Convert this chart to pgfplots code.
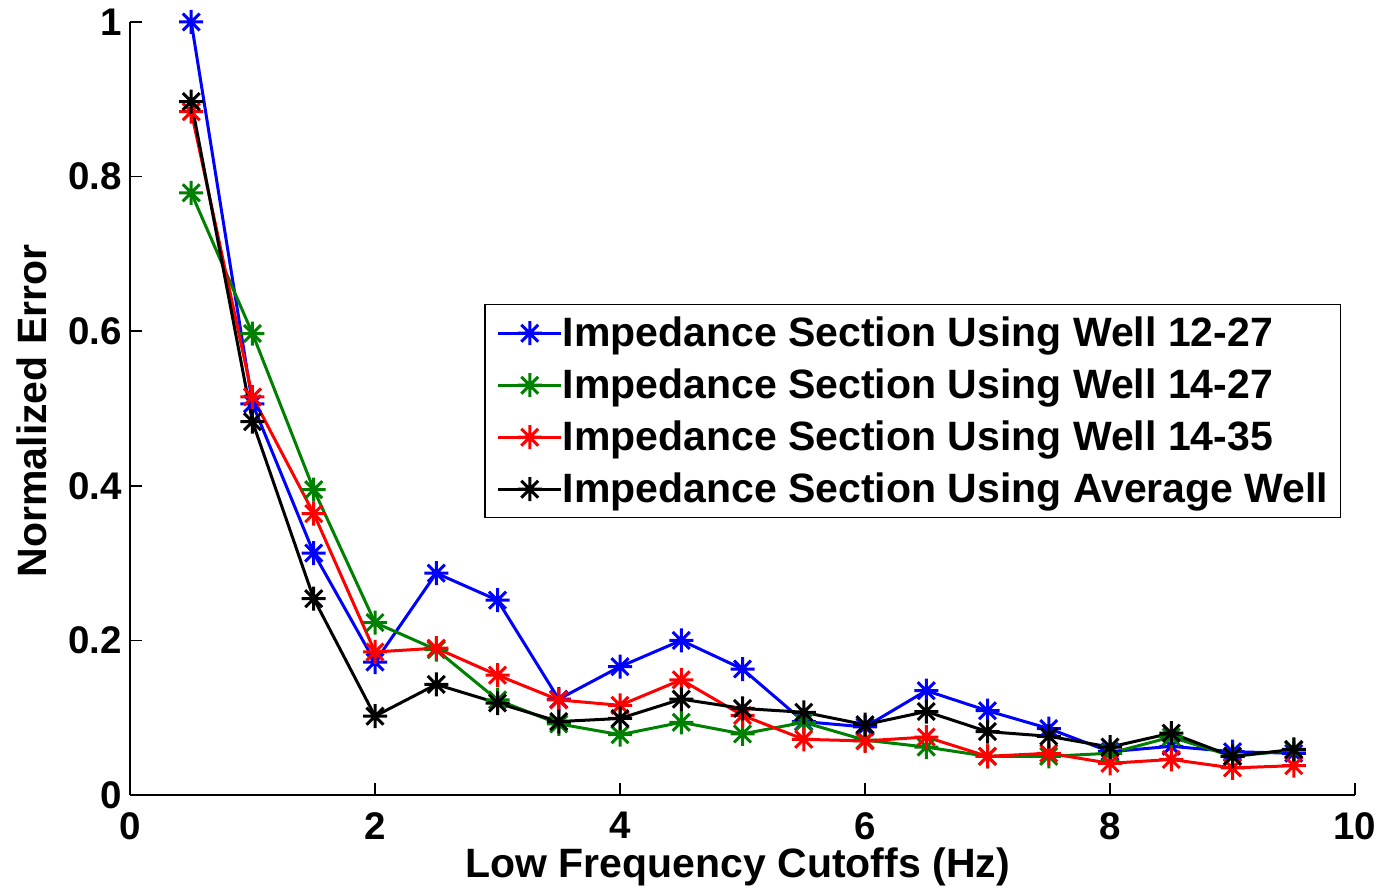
\documentclass[border=0pt]{standalone}
\usepackage{fontspec}
\setmainfont{Liberation Sans}
\usepackage{pgfplots}
\pgfplotsset{compat=1.18}
\definecolor{mgreen}{rgb}{0,0.5,0}
\pgfdeclareplotmark{mstar}{%
 \pgfpathmoveto{\pgfqpoint{0pt}{\pgfplotmarksize}}\pgfpathlineto{\pgfqpoint{0pt}{-\pgfplotmarksize}}%
 \pgfpathmoveto{\pgfqpoint{\pgfplotmarksize}{0pt}}\pgfpathlineto{\pgfqpoint{-\pgfplotmarksize}{0pt}}%
 \pgfpathmoveto{\pgfqpoint{0.707\pgfplotmarksize}{0.707\pgfplotmarksize}}\pgfpathlineto{\pgfqpoint{-0.707\pgfplotmarksize}{-0.707\pgfplotmarksize}}%
 \pgfpathmoveto{\pgfqpoint{-0.707\pgfplotmarksize}{0.707\pgfplotmarksize}}\pgfpathlineto{\pgfqpoint{0.707\pgfplotmarksize}{-0.707\pgfplotmarksize}}%
 \pgfusepathqstroke}

\pgfplotstableread{
x b g r k
0.5 1.000 0.779 0.884 0.897
1.0 0.506 0.597 0.515 0.483
1.5 0.313 0.395 0.364 0.254
2.0 0.172 0.223 0.185 0.102
2.5 0.287 0.188 0.190 0.143
3.0 0.252 0.123 0.155 0.119
3.5 0.124 0.092 0.123 0.095
4.0 0.166 0.078 0.116 0.099
4.5 0.200 0.094 0.149 0.124
5.0 0.163 0.079 0.103 0.112
5.5 0.095 0.094 0.072 0.107
6.0 0.088 0.071 0.070 0.091
6.5 0.135 0.062 0.075 0.108
7.0 0.109 0.050 0.050 0.082
7.5 0.086 0.050 0.054 0.076
8.0 0.056 0.054 0.041 0.062
8.5 0.063 0.075 0.046 0.080
9.0 0.056 0.050 0.035 0.050
9.5 0.054 0.058 0.038 0.059
}\datatable

\begin{document}
\begin{tikzpicture}
\useasboundingbox (-130pt,-94pt) rectangle (1251pt,795pt);
\begin{axis}[
  at={(0pt,0pt)}, anchor=south west,
  scale only axis, width=1225pt, height=773pt,
  xmin=0, xmax=10, ymin=0, ymax=1,
  xtick={0,2,4,6,8,10}, ytick={0,0.2,0.4,0.6,0.8,1},
  axis x line*=bottom, axis y line*=left,
  tick align=inside, major tick length=12pt,
  axis line style={line width=1.5pt, black, -},
  tick style={line width=1.5pt, black},
  clip=false,
  /pgf/number format/assume math mode=true,
  ticklabel style={font=\bfseries\fontsize{38.5}{38.5}\selectfont, inner sep=0pt},
  yticklabel style={anchor=east, xshift=-8pt},
  xticklabel style={anchor=north, yshift=-17pt},
  xlabel={Low Frequency Cutoffs (Hz)},
  ylabel={Normalized Error},
  label style={font=\bfseries\fontsize{41}{41}\selectfont, inner sep=0pt},
  xlabel style={at={(axis description cs:0.496,-0.1061)}, anchor=base},
  ylabel style={at={(axis description cs:-0.0678,0.497)}, anchor=base},
  legend cell align=left,
  legend style={at={(0.28898,0.63519)}, anchor=north west, draw=black, line width=1.5pt,
    inner xsep=12pt, inner ysep=12pt, row sep=19pt,
    nodes={font=\bfseries\fontsize{41}{41}\selectfont, inner sep=0pt, text height=30pt, text depth=3pt},
    /tikz/every even column/.append style={column sep=8pt}},
  legend image code/.code={\draw[mark repeat=2, mark phase=2] plot coordinates {(0pt,0pt) (31.5pt,0pt) (63pt,0pt)};},
  every axis plot/.append style={line width=3pt, mark=mstar, mark size=12pt, mark options={solid}},
]
\addplot[blue] table[x=x, y=b] {\datatable};
\addlegendentry{Impedance Section Using Well 12-27}
\addplot[mgreen] table[x=x, y=g] {\datatable};
\addlegendentry{Impedance Section Using Well 14-27}
\addplot[red] table[x=x, y=r] {\datatable};
\addlegendentry{Impedance Section Using Well 14-35}
\addplot[black] table[x=x, y=k] {\datatable};
\addlegendentry{Impedance Section Using Average Well}
\end{axis}
\end{tikzpicture}
\end{document}
